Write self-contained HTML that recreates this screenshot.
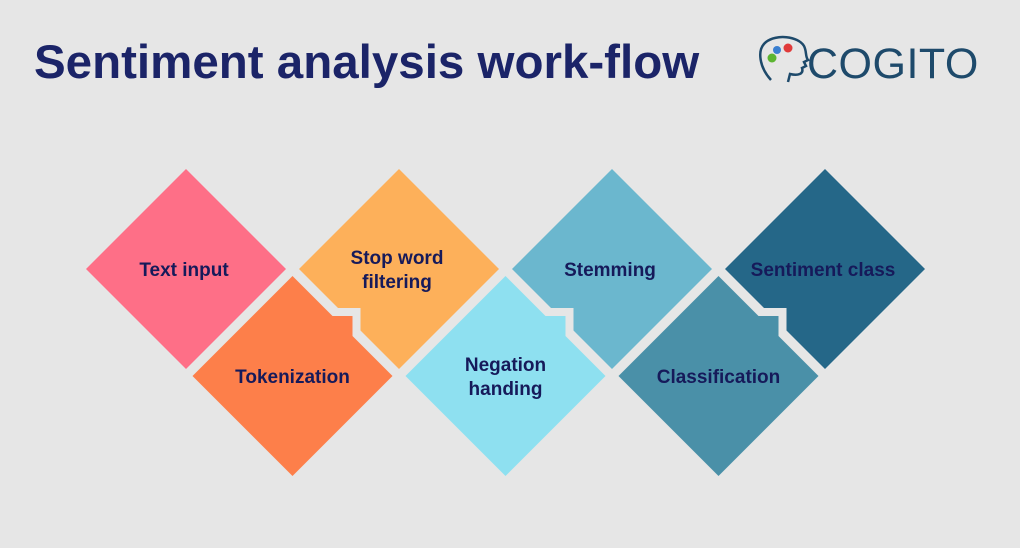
<!DOCTYPE html>
<html><head><meta charset="utf-8"><style>
html,body{margin:0;padding:0;background:#e6e6e6;}
svg{display:block;}
text{font-family:"Liberation Sans",sans-serif;font-weight:bold;}
</style></head><body>
<svg width="1020" height="548" viewBox="0 0 1020 548">
<rect width="1020" height="548" fill="#e6e6e6"/>
<text x="34" y="78" font-size="47.5" fill="#1b2468">Sentiment analysis work-flow</text>
<g>
<path d="M771 80 C760 68 756 50 766 42 C776 34 798 36 804 46 C807 52 805 56 808 60 L804 62 L806 66 L802 68 C804 74 798 76 790 74 L788 82" fill="none" stroke="#1e4a6b" stroke-width="2.5"/>
<circle cx="777" cy="50" r="4" fill="#3a7fd0"/>
<circle cx="788" cy="48" r="4.5" fill="#e03a3a"/>
<circle cx="772" cy="58" r="4.5" fill="#5cb531"/>
<text x="807" y="78" font-size="43" fill="#1e4a6b" style="font-weight:normal;letter-spacing:0.5px">COGITO</text>
</g>
<g id="shapes"></g>
</svg>
<script>
const steps=["Text input","Tokenization","Stop word|filtering","Negation|handing","Stemming","Classification","Sentiment class"];
const colors=["#fe6f87","#fd7f4a","#fdb05a","#8ee0f0","#6bb7ce","#4a90a8","#256788"];
const NS="http://www.w3.org/2000/svg";
const g=document.getElementById('shapes');
const R=100, x0=186, dx=106.5, yTop=269, yBot=376;
function mk(tag,attrs){const e=document.createElementNS(NS,tag);for(const k in attrs)e.setAttribute(k,attrs[k]);g.appendChild(e);return e;}
function dia(cx,cy){return `${cx},${cy-R} ${cx+R},${cy} ${cx},${cy+R} ${cx-R},${cy}`;}
const pos=steps.map((s,i)=>({cx:x0+i*dx,cy:i%2?yBot:yTop}));
steps.forEach((s,i)=>{if(i%2)return;const p=pos[i];
const e=mk('polygon',{points:dia(p.cx,p.cy),fill:colors[i]});

});
steps.forEach((s,i)=>{if(!(i%2))return;const p=pos[i];
const a=mk('polygon',{points:dia(p.cx,p.cy),fill:colors[i],stroke:'#e6e6e6','stroke-width':8});


const t=mk('rect',{x:p.cx-38,y:p.cy-64,width:102,height:34,fill:colors[i],stroke:'#e6e6e6','stroke-width':8});


const b=mk('polygon',{points:dia(p.cx,p.cy),fill:colors[i]});

});
steps.forEach((s,i)=>{const p=pos[i];const lines=s.split('|');
const t=mk('text',{x:p.cx+(i%2?0:-2),'text-anchor':'middle','font-size':19,fill:'#161a5a'});


lines.forEach((l,j)=>{const ts=document.createElementNS(NS,'tspan');ts.setAttribute('x',p.cx+(i%2?0:-2));
ts.setAttribute('y',p.cy+7-(lines.length-1)*12+j*24);ts.textContent=l;t.appendChild(ts);});});
</script>
</body></html>
